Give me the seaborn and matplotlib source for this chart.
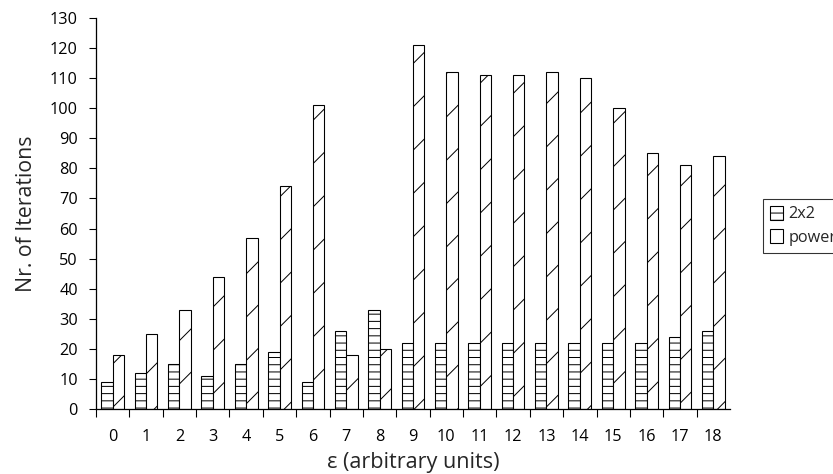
import numpy as np
import pandas as pd
import matplotlib
matplotlib.use('Agg')
import matplotlib.pyplot as plt
import seaborn as sns

# --- Data ---
eps = list(range(19))
iters_2x2 = [9, 12, 15, 11, 15, 19, 9, 26, 33, 22, 22, 22, 22, 22, 22, 22, 22, 24, 26]
iters_power = [18, 25, 33, 44, 57, 74, 101, 18, 20, 121, 112, 111, 111, 112, 110, 100, 85, 81, 84]
methods = ['2x2', 'power']
y_ticks = list(range(0, 131, 10))

df = pd.DataFrame({
    'eps': eps * 2,
    'iterations': iters_2x2 + iters_power,
    'method': [methods[0]] * len(eps) + [methods[1]] * len(eps),
})

# --- Style ---
sns.set_style('ticks')
plt.rcParams['font.family'] = ['Open Sans', 'DejaVu Sans']
plt.rcParams['hatch.linewidth'] = 0.55
plt.rcParams['axes.linewidth'] = 0.7

# hatch cell size follows dpi, 130 gives the sparse diagonals of the original
DPI = 130
fig = plt.figure(figsize=(833 / DPI, 474 / DPI), dpi=DPI)
ax = fig.add_axes([96 / 833, 1 - 409 / 474, 634 / 833, 391 / 474])

sns.barplot(data=df, x='eps', y='iterations', hue='method', hue_order=methods,
            palette=['white', 'white'], edgecolor='black', linewidth=0.6,
            width=0.68, gap=0, saturation=1, legend=False, ax=ax)

hatches = ['---', '/']
for cont, h in zip(ax.containers, hatches):
    for bar in cont:
        bar.set_hatch(h)
        bar.set_edgecolor('black')

ax.set_xlim(-0.5, 18.5)
ax.set_ylim(0, 130)
ax.set_yticks(y_ticks)
ax.set_xticks(eps)
ax.set_xticklabels([str(e) for e in eps])
ax.set_xticks(np.arange(-0.5, 18, 1), minor=True)
ax.tick_params(axis='x', which='major', length=0, pad=11, labelsize=9, colors='black')
ax.tick_params(axis='x', which='minor', length=4.5, width=0.6, color='black')
ax.tick_params(axis='y', length=4, width=0.6, pad=6, labelsize=9, colors='black')

for s in ['top', 'right']:
    ax.spines[s].set_visible(False)
ax.spines['left'].set_color('black')
ax.spines['bottom'].set_color('black')

ax.set_xlabel('ε (arbitrary units)', fontsize=12, labelpad=4)
ax.set_ylabel('Nr. of Iterations', fontsize=11.8, labelpad=7)

# legend sits at the right edge, partly cut off like the original
leg = ax.legend(handles=list(ax.containers), labels=methods, loc='upper left',
                bbox_to_anchor=(763 / 833, 1 - 199 / 474), bbox_transform=fig.transFigure,
                fontsize=9, frameon=True, fancybox=False, borderaxespad=0,
                handlelength=0.8, handleheight=0.95, handletextpad=0.35,
                borderpad=0.4, labelspacing=0.45)
leg.get_frame().set_edgecolor('black')
leg.get_frame().set_linewidth(0.6)

fig.savefig('out.png', dpi=DPI)
